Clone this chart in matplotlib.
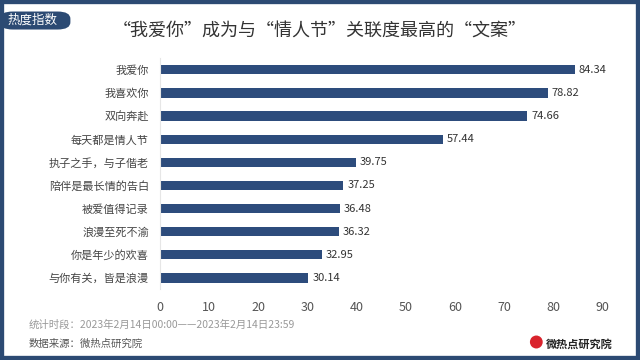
import matplotlib.pyplot as plt
from matplotlib.patches import Rectangle, FancyBboxPatch, Ellipse

plt.rcParams['font.family'] = ['Noto Sans CJK SC', 'DejaVu Sans']

# 数据
labels = ['我爱你', '我喜欢你', '双向奔赴', '每天都是情人节', '执子之手，与子偕老',
          '陪伴是最长情的告白', '被爱值得记录', '浪漫至死不渝', '你是年少的欢喜', '与你有关，皆是浪漫']
values = [84.34, 78.82, 74.66, 57.44, 39.75, 37.25, 36.48, 36.32, 32.95, 30.14]
xticks = [0, 10, 20, 30, 40, 50, 60, 70, 80, 90]

bar_color = '#2d4c7c'
frame_color = '#2c4a73'

fig = plt.figure(figsize=(6.4, 3.6), dpi=100)
fig.patch.set_facecolor('white')

ax = fig.add_axes([0.25, 0.196, 0.692, 0.642])
y = list(range(len(labels)))
ax.barh(y, values, height=0.4, color=bar_color)
for yi, v in zip(y, values):
    ax.text(v + 0.8, yi, f'{v:.2f}', va='center', ha='left', fontsize=8, color='#333333')
ax.set_yticks(y)
ax.set_yticklabels(labels, fontsize=8, color='#444444')
ax.set_ylim(len(labels) - 0.5, -0.5)
ax.set_xlim(0, 90)
ax.set_xticks(xticks)
ax.tick_params(axis='x', labelsize=9, colors='#555555', length=0, pad=8)
ax.tick_params(axis='y', length=0, pad=8)
for s in ['top', 'right', 'bottom']:
    ax.spines[s].set_visible(False)
ax.spines['left'].set_color('#e6e6e6')

# 边框
fig.patches.append(Rectangle((0, 0), 1, 1, transform=fig.transFigure, fill=False,
                             edgecolor=frame_color, linewidth=6))

# 左上角标签
fig.patches.append(FancyBboxPatch((0.0, 0.918), 0.11, 0.05, transform=fig.transFigure,
                                  boxstyle='round,pad=0,rounding_size=0.02',
                                  facecolor=frame_color, edgecolor='none'))
fig.text(0.012, 0.943, '热度指数', fontsize=9, color='white', va='center', ha='left')

# 标题
fig.text(0.5, 0.913, '“我爱你”成为与“情人节”关联度最高的“文案”', fontsize=13,
         color='#333333', ha='center', va='center')

# 注释
fig.text(0.044, 0.097, '统计时段：2023年2月14日00:00——2023年2月14日23:59', fontsize=7.5,
         color='#999999', va='center')
fig.text(0.044, 0.045, '数据来源：微热点研究院', fontsize=7.5, color='#555555', va='center')

# logo
fig.patches.append(Ellipse((0.838, 0.05), 0.02, 0.036, transform=fig.transFigure,
                           facecolor='#d9232d', edgecolor='none'))
fig.text(0.853, 0.045, '微热点研究院', fontsize=8, color='#222222', weight='bold', va='center')

fig.savefig('out.png', dpi=100)
